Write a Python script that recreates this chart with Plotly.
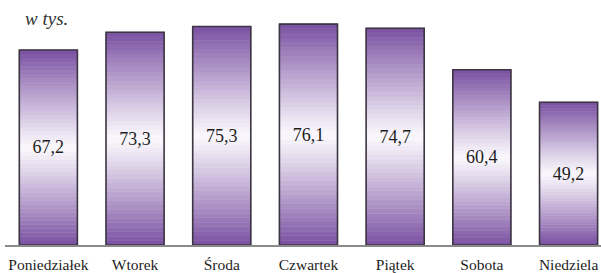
import plotly.graph_objects as go

days = ["Poniedziałek", "Wtorek", "Środa", "Czwartek", "Piątek", "Sobota", "Niedziela"]
values = [67.2, 73.3, 75.3, 76.1, 74.7, 60.4, 49.2]
unit_label = "w tys."

N_SEG = 48
DARK = (122, 80, 162)
LIGHT = (250, 248, 252)
BAR_W = 0.67
SERIF = "Liberation Serif"


def mix(t):
    t = max(0.0, min(1.0, t))
    f = t ** 1.1
    r, g, b = (round(LIGHT[k] + (DARK[k] - LIGHT[k]) * f) for k in range(3))
    return f"rgb({r},{g},{b})"


fig = go.Figure()

# gradient slices of each bar (darker at top/bottom, white near the centre)
for i in range(N_SEG):
    mid = (i + 0.5) / N_SEG
    col = mix(abs(mid - 0.5) * 2)
    fig.add_trace(go.Bar(
        x=days,
        y=[v / N_SEG for v in values],
        base=[v * i / N_SEG for v in values],
        width=BAR_W,
        marker=dict(color=col, line=dict(width=0.6, color=col)),
        hoverinfo="skip",
        showlegend=False,
    ))

# outline + value labels
fig.add_trace(go.Bar(
    x=days,
    y=values,
    width=BAR_W,
    marker=dict(color="rgba(0,0,0,0)", line=dict(color="#3c3542", width=1.6)),
    text=[f"{v:.1f}".replace(".", ",") for v in values],
    textposition="inside",
    insidetextanchor="middle",
    constraintext="none",
    textfont=dict(family=SERIF, size=18, color="#1e1e1e"),
    hoverinfo="skip",
    showlegend=False,
))

fig.update_layout(
    width=601, height=273,
    margin=dict(l=5, r=0, t=5, b=28, autoexpand=False),
    barmode="overlay",
    plot_bgcolor="white",
    paper_bgcolor="white",
    font=dict(family=SERIF, size=15, color="#1e1e1e"),
    xaxis=dict(
        range=[-0.5, 6.374],
        automargin=False,
        showgrid=False, zeroline=False,
        showline=True, linecolor="#8a8a8a", linewidth=1.5,
        ticks="", ticklen=0, ticklabelstandoff=5,
        tickfont=dict(family=SERIF, size=15.5, color="#1e1e1e"),
    ),
    yaxis=dict(range=[0, 82.7], visible=False),
    annotations=[dict(
        text=unit_label, xref="paper", yref="paper", x=0.03, y=1.0,
        xanchor="left", yanchor="top", yshift=-1, showarrow=False,
        font=dict(family=SERIF, size=19, color="#333333", style="italic"),
    )],
)

fig.write_html(
    "out.html",
    config={"displayModeBar": False},
    post_script="document.body.style.margin='0';document.body.style.overflow='hidden';",
)
